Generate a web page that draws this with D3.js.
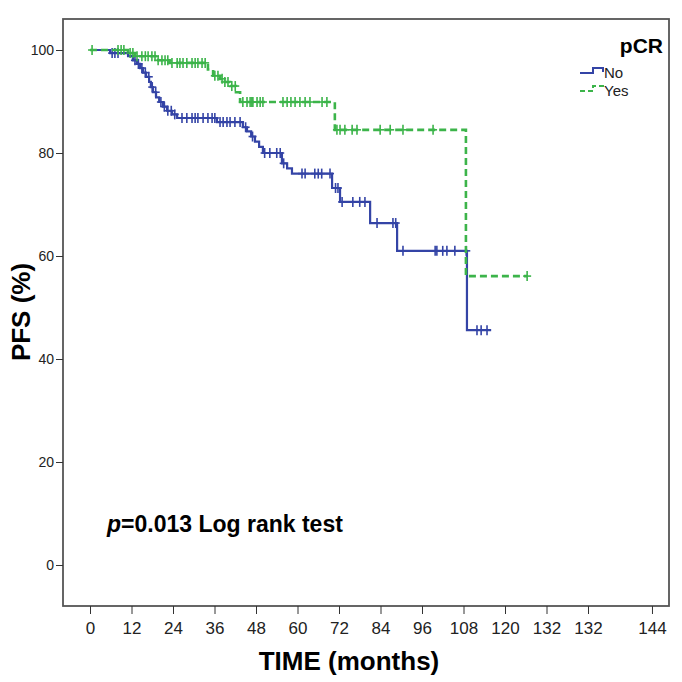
<!DOCTYPE html>
<html>
<head>
<meta charset="utf-8">
<script src="https://cdn.jsdelivr.net/npm/d3@7"></script>
<style>
  body { margin: 0; background: #fff; }
  svg { display: block; }
</style>
</head>
<body>
<div id="chart"></div>
<script>
// time axis: tick positions and the (odd) labels as printed
const xTickValues = [0, 12, 24, 36, 48, 60, 72, 84, 96, 108, 120, 132, 144, 162.5]
const xTickLabels = ['0', '12', '24', '36', '48', '60', '72', '84', '96', '108', '120', '132', '132', '144']
const yTickValues = [0, 20, 40, 60, 80, 100]

// pCR = No : [time, PFS after the step]
const noSteps = [
    [0, 100], [5.8, 99.4], [11, 98.8], [12.4, 98.0], [13.6, 97.3], [14.5, 96.5],
    [15.3, 95.6], [16.2, 94.8], [17.1, 93.8], [17.6, 92.8], [18.2, 91.8], [19.1, 90.8],
    [20, 89.9], [21.1, 89.0], [22.3, 88.2], [23.7, 87.5], [25.2, 86.8], [36.7, 86.0],
    [44.2, 85.0], [45.4, 84.2], [46.6, 83.2], [47.7, 82.2], [48.9, 81.2], [50, 80.0],
    [55.5, 78.0], [57, 77.0], [58.4, 76.0], [70, 73.2], [72.3, 70.5], [81, 66.4],
    [88.8, 61.0], [109, 45.6]
]
const noEnd = 116
const noCensored = [
    6.4, 7.2, 8.1, 13, 14, 15, 16, 17, 18, 19, 20.5, 21.5, 22.5, 23.5, 24.5,
    26.6, 28, 29.5, 30.4, 31.2, 32.7, 34.1, 35.3, 36.1, 37.6, 38.5, 39.6, 40.5, 41.9, 43.4,
    45, 47, 50.5, 52, 54, 55, 56, 61.3, 62.2, 65, 66, 67, 69.4, 71, 71.7, 72.9, 76, 78, 79.5,
    83, 87.6, 88.4, 90.5, 99.8, 100.3, 102, 103.2, 105.5, 108.8, 111.9, 113.1, 114.8
]

// pCR = Yes
const yesSteps = [
    [0, 100], [11, 99.4], [13, 98.8], [19.7, 98.0], [23, 97.5], [34.1, 96.2],
    [35.6, 95.0], [37.6, 94.4], [39, 93.8], [40.5, 93.0], [42.2, 91.8], [43.4, 89.9],
    [70.8, 84.5], [108.7, 56.1]
]
const yesEnd = 126.4
const yesCensored = [
    0.6, 8.1, 9, 9.8, 11.6, 12.4, 13.6, 15, 16, 16.8, 17.9, 18.8, 19.7, 20.8, 21.7, 22.5,
    23.7, 25.2, 26, 26.9, 28, 29.5, 30.4, 31.2, 32.4, 33.3, 36.1, 37, 38.2, 39, 39.9, 41, 42,
    44.2, 45.4, 46.3, 46.8, 47.1, 48.3, 49.2, 50, 55.8, 57, 58.1, 59.3, 60.7, 62.2, 63.6,
    67.1, 68.5, 71.4, 72.3, 73.7, 75.8, 77.2, 83.9, 86.8, 90.5, 99.2, 126.4
]

const groups = [
    {name: 'No', steps: noSteps, end: noEnd, censored: noCensored, color: '#3444a6', dash: null, width: 2.2},
    {name: 'Yes', steps: yesSteps, end: yesEnd, censored: yesCensored, color: '#3cb44a', dash: '7,4', width: 2.6}
]

const W = 682, H = 682
const frame = {left: 63, right: 669, top: 19, bottom: 606}

const svg = d3.select('#chart').append('svg')
    .attr('width', W)
    .attr('height', H)
    .style('font-family', 'Arial, "Liberation Sans", sans-serif')

const x = d3.scaleLinear().domain([0, 144]).range([90, 588])
const y = d3.scaleLinear().domain([0, 100]).range([565, 50])

// value of a step curve at time t
function valueAt(steps, t) {
    let v = steps[0][1]
    steps.forEach(s => { if (s[0] <= t) v = s[1] })
    return v
}

// frame
svg.append('rect')
    .attr('x', frame.left)
    .attr('y', frame.top)
    .attr('width', frame.right - frame.left)
    .attr('height', frame.bottom - frame.top)
    .attr('fill', 'none')
    .attr('stroke', '#555')
    .attr('stroke-width', 1.8)

// axes
const xAxis = d3.axisBottom(x)
    .tickValues(xTickValues)
    .tickSize(8)
    .tickFormat((d, i) => xTickLabels[i])

const xg = svg.append('g')
    .attr('transform', `translate(0,${frame.bottom})`)
    .call(xAxis)
xg.select('.domain').remove()
xg.selectAll('line').attr('stroke', '#333')
xg.selectAll('text')
    .attr('y', 16)
    .attr('fill', '#222')
    .style('font-size', '17px')
    .style('font-family', '"Liberation Sans Narrow", "Arial Narrow", Arial, sans-serif')

const yAxis = d3.axisLeft(y)
    .tickValues(yTickValues)
    .tickSize(7)
    .tickFormat(d3.format('d'))

const yg = svg.append('g')
    .attr('transform', `translate(${frame.left},0)`)
    .call(yAxis)
yg.select('.domain').remove()
yg.selectAll('line').attr('stroke', '#333')
yg.selectAll('text')
    .attr('x', -9)
    .attr('fill', '#222')
    .style('font-size', '14px')

// axis titles
svg.append('text')
    .attr('x', 349)
    .attr('y', 670)
    .attr('text-anchor', 'middle')
    .style('font-size', '26px')
    .style('font-weight', 'bold')
    .text('TIME (months)')

svg.append('text')
    .attr('transform', 'translate(30,312) rotate(-90)')
    .attr('text-anchor', 'middle')
    .style('font-size', '26px')
    .style('font-weight', 'bold')
    .text('PFS (%)')

// curves
const line = d3.line()
    .x(d => x(d[0]))
    .y(d => y(d[1]))
    .curve(d3.curveStepAfter)

groups.forEach(g => {
    const pts = g.steps.concat([[g.end, g.steps[g.steps.length - 1][1]]])
    const gg = svg.append('g').attr('class', 'group-' + g.name)

    gg.append('path')
        .attr('d', line(pts))
        .attr('fill', 'none')
        .attr('stroke', g.color)
        .attr('stroke-width', g.width)
        .attr('stroke-dasharray', g.dash)

    const marks = gg.selectAll('g.cens')
        .data(g.censored)
        .enter().append('g')
        .attr('class', 'cens')
        .attr('transform', d => `translate(${x(d)},${y(valueAt(g.steps, d))})`)
    marks.append('line')
        .attr('x1', 0).attr('x2', 0).attr('y1', -5).attr('y2', 5)
        .attr('stroke', g.color).attr('stroke-width', 1.6)
    marks.append('line')
        .attr('x1', -4).attr('x2', 4).attr('y1', 0).attr('y2', 0)
        .attr('stroke', g.color).attr('stroke-width', 1.6)
})

// legend
svg.append('text')
    .attr('x', 663)
    .attr('y', 53)
    .attr('text-anchor', 'end')
    .style('font-size', '21px')
    .style('font-weight', 'bold')
    .text('pCR')

groups.forEach((g, i) => {
    const ly = 73 + i * 18
    svg.append('path')
        .attr('d', `M580,${ly}H593V${ly - 5}H603V${ly - 1}`)
        .attr('fill', 'none')
        .attr('stroke', g.color)
        .attr('stroke-width', 2)
        .attr('stroke-dasharray', g.dash ? '5,3' : null)
    svg.append('text')
        .attr('x', 604)
        .attr('y', ly + 5)
        .style('font-size', '15px')
        .attr('fill', '#222')
        .text(g.name)
})

// test annotation
const note = svg.append('text')
    .attr('x', 107)
    .attr('y', 532)
    .style('font-size', '23px')
    .style('font-weight', 'bold')
note.append('tspan').style('font-style', 'italic').text('p')
note.append('tspan').text('=0.013 Log rank test')
</script>
</body>
</html>
